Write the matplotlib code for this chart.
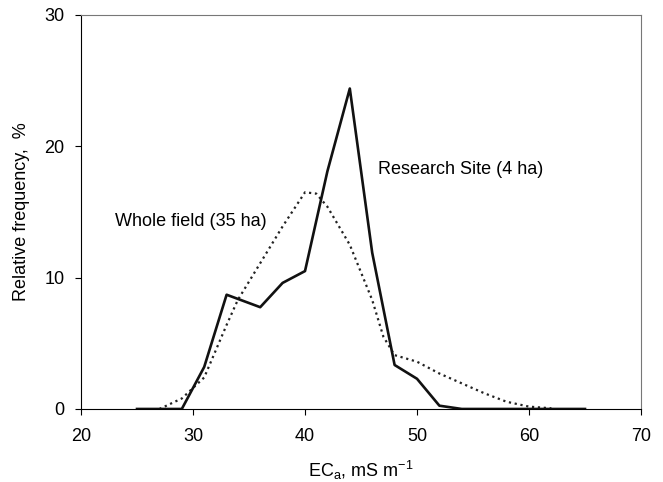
import matplotlib
matplotlib.use("Agg")
import matplotlib.pyplot as plt

plt.rcParams['font.family'] = ['Liberation Sans', 'DejaVu Sans']

# research site (4 ha), solid
ec_site = [25, 27, 29, 31, 33, 36, 38, 40, 42, 44, 46, 48, 50, 52, 54, 56, 58, 60, 62, 65]
freq_site = [0, 0, 0, 3.2, 8.7, 7.75, 9.6, 10.5, 18.1, 24.4, 11.9, 3.35, 2.3, 0.25, 0, 0, 0, 0, 0, 0]

# whole field (35 ha), dotted
ec_field = [27, 29, 31, 33, 34, 36, 38, 40, 41, 42, 44, 46, 47, 48, 50, 52, 54, 56, 58, 60, 62]
freq_field = [0, 0.8, 2.4, 6.4, 8.3, 11.1, 13.9, 16.5, 16.4, 15.4, 12.5, 8.3, 5.5, 4.1, 3.6, 2.7, 1.95, 1.2, 0.55, 0.18, 0.05]

fig = plt.figure(figsize=(6.63, 4.82), dpi=100)
ax = fig.add_axes([0.1222, 0.1515, 0.8446, 0.8174])

ax.plot(ec_field, freq_field, color='#222222', linestyle=':', linewidth=1.6)
ax.plot(ec_site, freq_site, color='#111111', linestyle='-', linewidth=1.9)

ax.set_xlim(20, 70)
ax.set_ylim(0, 30)
ax.set_xticks([20, 30, 40, 50, 60, 70])
ax.set_yticks([0, 10, 20, 30])
ax.tick_params(direction='out', length=4.5, labelsize=13)
ax.tick_params(axis='x', pad=9.5)
ax.tick_params(axis='y', pad=7.5)

ax.text(46.5, 18.2, "Research Site (4 ha)", fontsize=13, va='center', ha='left')
ax.text(23.0, 14.3, "Whole field (35 ha)", fontsize=13, va='center', ha='left')

ax.set_xlabel("EC$_{\\mathregular{a}}$, mS m$^{\\mathregular{-1}}$", fontsize=13, labelpad=10)
ax.set_ylabel("Relative frequency,  %", fontsize=13, labelpad=10)

for s in ['top', 'right']:
    ax.spines[s].set_color('#777777')

fig.savefig("out.png", dpi=100)
